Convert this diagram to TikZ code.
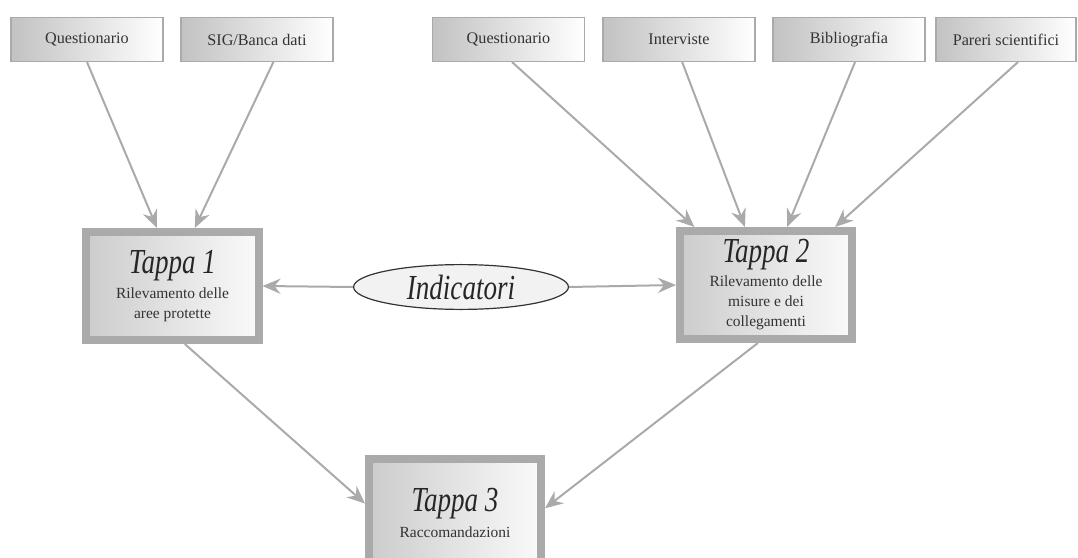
\documentclass[tikz,border=0pt]{standalone}
\usepackage{fontspec}
\setmainfont{Liberation Serif}
\usepackage{graphicx}
\usetikzlibrary{shapes.geometric,arrows.meta}

\definecolor{edgegray}{HTML}{AAAAAA}
\definecolor{boxgray}{HTML}{C2C2C2}
\definecolor{textgray}{HTML}{333333}
\newcommand{\bigital}[1]{{\color{black!85}\scalebox{0.77}[1]{\fontsize{25}{25}\selectfont\itshape #1}}}

\begin{document}
\begin{tikzpicture}[x=0.025cm,y=-0.025cm,
  source/.style={draw=edgegray,line width=0.0375cm,left color=boxgray,right color=white,
    minimum width=3.81cm,minimum height=1.09cm,inner sep=0pt,
    font=\fontsize{11.5}{14}\selectfont,text=textgray},
  stage/.style={draw=edgegray,line width=0.2cm,left color=gray!40,right color=gray!4,
    minimum width=4.3cm,minimum height=2.7cm,inner sep=0pt,align=center,
    font=\fontsize{11}{14.5}\selectfont,text=textgray},
  link/.style={draw=edgegray,line width=0.05cm,-{Stealth[length=0.45cm,width=0.38cm,inset=0.15cm]}}]

\useasboundingbox (0,0) rectangle (1078,558); % Outline of picture

% Sources, left group
\node[source] (quest1) at (87,39.5) {Questionario};
\node[source] (sig) at (257,39.5) {SIG/Banca dati};

% Sources, right group
\node[source] (quest2) at (508.5,39.5) {Questionario};
\node[source] (interv) at (679,39.5) {Interviste};
\node[source] (biblio) at (849,39.5) {Bibliografia};
\node[source,minimum width=3.51cm] (pareri) at (1006,39.5) {Pareri scientifici};

% Stages
\node[stage] (tappa1) at (172.5,286) {\bigital{Tappa 1}\\[3pt]Rilevamento delle\\aree protette};
\node[stage] (tappa2) at (766,285) {\bigital{Tappa 2}\\[2pt]Rilevamento delle\\misure e dei\\collegamenti};
\node[stage] (tappa3) at (455,513) {\bigital{Tappa 3}\\[4pt]Raccomandazioni};

% Indicators
\node[ellipse,draw=black!80,line width=0.03cm,fill=gray!10,inner sep=0pt,
  minimum width=5.37cm,minimum height=1.12cm] (indic) at (461,287) {\bigital{Indicatori}};

% Sources to stage 1
\draw[link] (quest1.south) -- (tappa1.105);
\draw[link] (sig.-54.6) -- (tappa1.69.7);

% Sources to stage 2
\draw[link] (quest2.-81) -- (tappa2.141.5);
\draw[link] (interv.-82) -- (tappa2.110);
\draw[link] (biblio.-75) -- (tappa2.70);
\draw[link] (pareri.-62) -- (tappa2.40.9);

% Indicators to both stages
\draw[link] (indic.west) -- (tappa1.east);
\draw[link] (indic.east) -- (tappa2.west);

% Stages 1 and 2 to stage 3
\draw[link] (tappa1.-78.8) -- (tappa3.174.3);
\draw[link] (tappa2.-98.8) -- (tappa3.3.2);

\end{tikzpicture}
\end{document}
